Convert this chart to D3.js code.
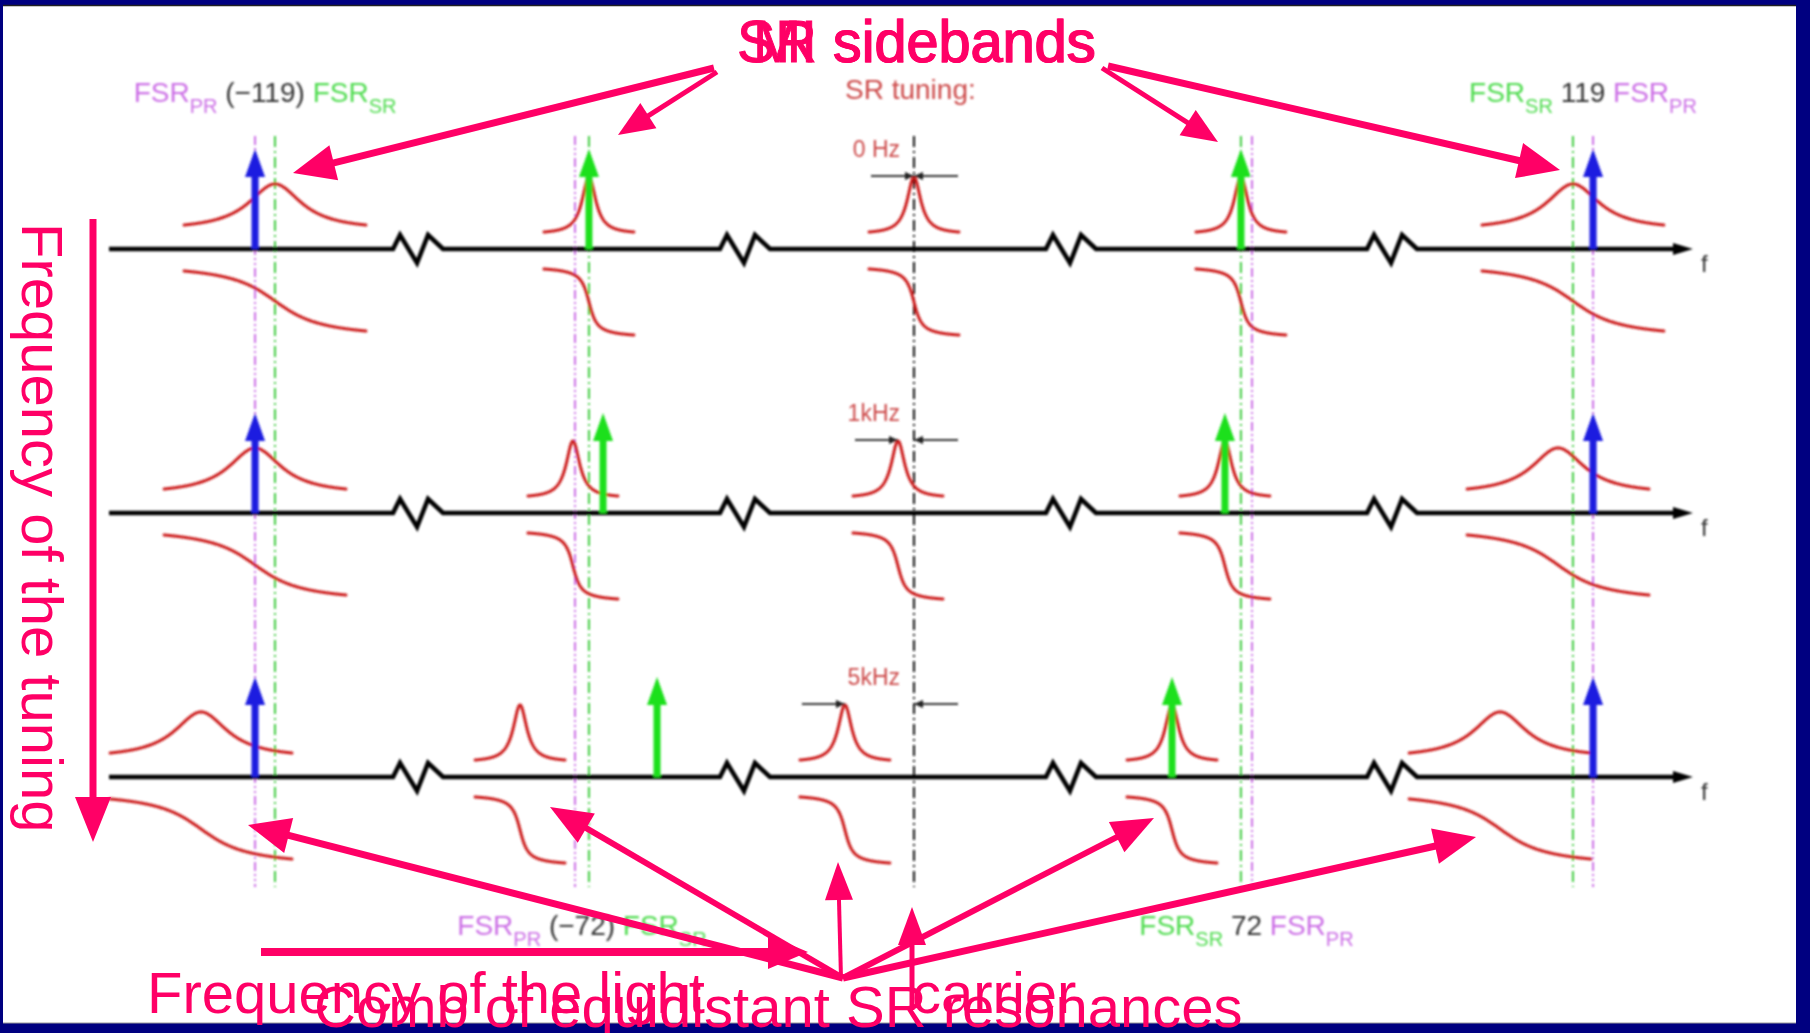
<!DOCTYPE html>
<html>
<head>
<meta charset="utf-8">
<script src="https://cdn.jsdelivr.net/npm/d3@7"></script>
<style>
  html, body { margin: 0; padding: 0; background: #fff; }
  svg { display: block; }
  text { font-family: "Liberation Sans", Arial, Helvetica, sans-serif; }
</style>
</head>
<body>
<svg id="chart" width="1810" height="1033"></svg>
<script>
// ---- data: SR tuning steps and positions on the schematic frequency axis (0..1000) ----
const tuningLabels = ["0 Hz", "1kHz", "5kHz"];
const prLines = [92.2, 294.2, 721.6, 936.9];        // FSR_PR multiples (-119, -72, 72, 119)
const srLines = [104.8, 303.0, 714.6, 924.2];       // FSR_SR multiples
const fsrOrders = [-119, -72, 72, 119];
const carrierPos = 508.2;
const axisBreaks = [195.1, 401.5, 607.3, 810.0];
const miSidebands = [92.2, 936.9];                  // blue, fixed
const srSidebands = [[303.0, 714.6], [311.9, 704.5], [346.0, 671.1]];   // green, per tuning
const resonanceCenters = [
  [104.8, 303.0, 508.2, 714.6, 924.2],
  [92.2, 292.9, 498.1, 704.5, 914.8],
  [58.1, 259.5, 464.6, 671.1, 878.2]
];
const resonanceKind = ["broad", "sharp", "sharp", "sharp", "broad"];

// ---- drawing ----
const svg = d3.select("#chart");
const PINK = "#ff0066";
const PURPLE = "#cc6fe6";
const GREENLINE = "#3fcc3f";
const BLUE = "#1b1be0";
const GREEN = "#1fe01f";
const RED = "#cc1c1c";

const x = d3.scaleLinear().domain([0, 1000]).range([109, 1693]);
const rowY = d3.scalePoint().domain(tuningLabels).range([249, 777]);

const defs = svg.append("defs");
defs.append("filter").attr("id", "soft")
  .attr("x", "-2%").attr("y", "-2%").attr("width", "104%").attr("height", "104%")
  .append("feGaussianBlur").attr("stdDeviation", 0.8);

// frame
svg.append("rect").attr("width", 1810).attr("height", 1033).attr("fill", "#000080");
svg.append("rect").attr("x", 3).attr("y", 6).attr("width", 1793).attr("height", 1017).attr("fill", "#fff");
svg.append("line").attr("x1", 3).attr("x2", 1796).attr("y1", 5.5).attr("y2", 5.5)
  .attr("stroke", "#222").attr("stroke-width", 1.5);
svg.append("line").attr("x1", 3).attr("x2", 1796).attr("y1", 1023).attr("y2", 1023)
  .attr("stroke", "#999").attr("stroke-width", 1);

const diagram = svg.append("g").attr("filter", "url(#soft)");

// vertical reference lines
const guideTop = 136, guideBottom = 887;
function guide(pos, color, dash) {
  diagram.append("line")
    .attr("x1", x(pos)).attr("x2", x(pos)).attr("y1", guideTop).attr("y2", guideBottom)
    .attr("stroke", color).attr("stroke-width", 2).attr("stroke-dasharray", dash);
}
prLines.forEach(p => guide(p, PURPLE, "9,3,2,3,2,3"));
srLines.forEach(p => guide(p, GREENLINE, "11,4,2,4"));
guide(carrierPos, "#111", "11,4,2,4");

// frequency axes with breaks
tuningLabels.forEach(lbl => {
  const y0 = rowY(lbl);
  const pts = [[x(0), y0]];
  axisBreaks.forEach(b => {
    const c = x(b);
    pts.push([c - 25, y0], [c - 18, y0 - 14], [c - 1, y0 + 14], [c + 10, y0 - 14], [c + 25, y0]);
  });
  pts.push([x(1000) - 16, y0]);
  diagram.append("path").attr("d", d3.line()(pts))
    .attr("fill", "none").attr("stroke", "#000").attr("stroke-width", 4.5)
    .attr("stroke-linejoin", "miter");
  const tip = x(1000);
  diagram.append("path")
    .attr("d", `M${tip},${y0} L${tip - 20},${y0 - 6} L${tip - 20},${y0 + 6} Z`)
    .attr("fill", "#000");
  diagram.append("text").attr("x", tip + 8).attr("y", y0 + 23)
    .attr("font-size", 24).attr("fill", "#333").text("f");
});

// resonance shapes: Lorentzian above the axis, phase step below
const shape = {
  broad: { half: 57.4, gL: 20.2, gP: 22.1, base: -24, peak: -65, phTop: 22, phBot: 82 },
  sharp: { half: 28.4, gL: 5.2, gP: 3.8, base: -17, peak: -72, phTop: 20, phBot: 86 }
};
const line = d3.line();
resonanceCenters.forEach((row, r) => {
  const y0 = rowY(tuningLabels[r]);
  row.forEach((c, i) => {
    const s = shape[resonanceKind[i]];
    const ds = d3.range(0, 241).map(k => -s.half + 2 * s.half * k / 240);
    const L = d => 1 / (1 + (d / s.gL) * (d / s.gL));
    const Lh = L(s.half);
    const amp = ds.map(d => [x(c + d), y0 + s.base + (s.peak - s.base) * (L(d) - Lh) / (1 - Lh)]);
    const ph = ds.map(d => [x(c + d),
      y0 + (s.phTop + s.phBot) / 2 + (s.phBot - s.phTop) / 2 * Math.atan(d / s.gP) / Math.atan(s.half / s.gP)]);
    [amp, ph].forEach(p => diagram.append("path").attr("d", line(p))
      .attr("fill", "none").attr("stroke", RED).attr("stroke-width", 3)
      .attr("stroke-linecap", "round"));
  });
});

// sideband arrows
function sideband(pos, y0, color) {
  const cx = x(pos), tip = y0 - 100, hl = 28, hw = 10;
  diagram.append("rect").attr("x", cx - 3.5).attr("y", tip + hl - 2)
    .attr("width", 7).attr("height", y0 - tip - hl + 2).attr("fill", color);
  diagram.append("path")
    .attr("d", `M${cx},${tip} L${cx + hw},${tip + hl} L${cx - hw},${tip + hl} Z`)
    .attr("fill", color);
}
tuningLabels.forEach((lbl, r) => {
  const y0 = rowY(lbl);
  miSidebands.forEach(p => sideband(p, y0, BLUE));
  srSidebands[r].forEach(p => sideband(p, y0, GREEN));
});

// tuning offset markers and labels
function smallHead(xt, y, dir) {
  diagram.append("path")
    .attr("d", `M${xt},${y} L${xt - dir * 9},${y - 4} L${xt - dir * 9},${y + 4} Z`)
    .attr("fill", "#222");
}
tuningLabels.forEach((lbl, r) => {
  const y0 = rowY(lbl), ym = y0 - 73;
  const res = x(resonanceCenters[r][2]), car = x(carrierPos);
  diagram.append("line").attr("x1", res - 43).attr("x2", res).attr("y1", ym).attr("y2", ym)
    .attr("stroke", "#333").attr("stroke-width", 2.2);
  smallHead(res, ym, 1);
  diagram.append("line").attr("x1", car + 44).attr("x2", car).attr("y1", ym).attr("y2", ym)
    .attr("stroke", "#333").attr("stroke-width", 2.2);
  smallHead(car, ym, -1);
  diagram.append("text").attr("x", 900).attr("y", y0 - 92)
    .attr("text-anchor", "end").attr("font-size", 23).attr("fill", "#cc4848").text(lbl);
});
diagram.append("text").attr("x", 845).attr("y", 99)
  .attr("font-size", 28).attr("fill", "#cc4848").text("SR tuning:");

// FSR order labels
function fsrLabel(idx) {
  const n = fsrOrders[idx];
  const cx = (x(prLines[idx]) + x(srLines[idx])) / 2;
  const y = Math.abs(n) > 100 ? 102 : 935;
  const pr = [{ t: "FSR", c: PURPLE }, { sub: "PR", c: PURPLE }];
  const sr = [{ t: "FSR", c: "#4fdc4f" }, { sub: "SR", c: "#4fdc4f" }];
  const num = { t: n < 0 ? `\u00a0(\u2212${-n})\u00a0` : `\u00a0${n}\u00a0`, c: "#333" };
  const parts = n < 0 ? [...pr, num, ...sr] : [...sr, num, ...pr];
  const t = diagram.append("text").attr("x", cx).attr("y", y)
    .attr("text-anchor", "middle").attr("font-size", 28);
  let low = false;
  parts.forEach(p => {
    const ts = t.append("tspan").attr("fill", p.c);
    if (p.sub) { ts.attr("dy", 11).attr("font-size", 20).text(p.sub); low = true; }
    else { if (low) { ts.attr("dy", -11); low = false; } ts.text(p.t); }
  });
}
fsrOrders.forEach((_, i) => fsrLabel(i));

// ---- pink annotations ----
const notes = svg.append("g");
function pinkArrow(x1, y1, x2, y2, w, hl, hw) {
  const dx = x2 - x1, dy = y2 - y1, len = Math.hypot(dx, dy);
  const ux = dx / len, uy = dy / len, px = -uy, py = ux;
  const bx = x2 - ux * hl, by = y2 - uy * hl;
  notes.append("line").attr("x1", x1).attr("y1", y1)
    .attr("x2", bx + ux * 4).attr("y2", by + uy * 4)
    .attr("stroke", PINK).attr("stroke-width", w);
  notes.append("path")
    .attr("d", `M${x2},${y2} L${bx + px * hw / 2},${by + py * hw / 2} L${bx - px * hw / 2},${by - py * hw / 2} Z`)
    .attr("fill", PINK);
}
// to the sidebands
pinkArrow(714, 68, 293, 173, 7, 42, 36);
pinkArrow(717, 72, 618, 135, 5, 36, 30);
pinkArrow(1102, 68, 1218, 142, 5, 36, 30);
pinkArrow(1108, 66, 1560, 170, 7, 42, 36);
// tuning direction
pinkArrow(93, 219, 93, 842, 7, 45, 36);
// to the SR resonance comb
pinkArrow(843, 978, 248, 825, 7, 42, 36);
pinkArrow(843, 978, 550, 807, 6, 42, 34);
pinkArrow(841, 978, 838, 862, 4, 38, 28);
pinkArrow(843, 978, 1154, 818, 6, 42, 34);
pinkArrow(843, 978, 1476, 837, 7, 42, 36);
// light carrier
pinkArrow(261, 952, 808, 952, 8, 40, 34);
pinkArrow(912, 1010, 912, 907, 5, 38, 28);

// headline (two overlaid captions)
notes.append("text").attr("x", 737).attr("y", 62).attr("font-size", 60)
  .attr("textLength", 358).attr("lengthAdjust", "spacingAndGlyphs")
  .attr("fill", PINK).attr("stroke", PINK).attr("stroke-width", 1)
  .text("SR sidebands");
notes.append("text").attr("x", 753).attr("y", 62).attr("font-size", 60)
  .attr("textLength", 343).attr("lengthAdjust", "spacingAndGlyphs")
  .attr("fill", PINK).attr("stroke", PINK).attr("stroke-width", 1)
  .text("MI sidebands");

notes.append("text").attr("transform", "translate(22,223) rotate(90)")
  .attr("font-size", 58).attr("fill", PINK).text("Frequency of the tuning");
notes.append("text").attr("x", 147).attr("y", 1013)
  .attr("font-size", 58).attr("fill", PINK).text("Frequency of the light");
notes.append("text").attr("x", 912).attr("y", 1013)
  .attr("font-size", 58).attr("fill", PINK).text("carrier");
notes.append("text").attr("x", 314).attr("y", 1027)
  .attr("font-size", 58).attr("fill", PINK).text("Comb of equidistant SR resonances");
</script>
</body>
</html>
